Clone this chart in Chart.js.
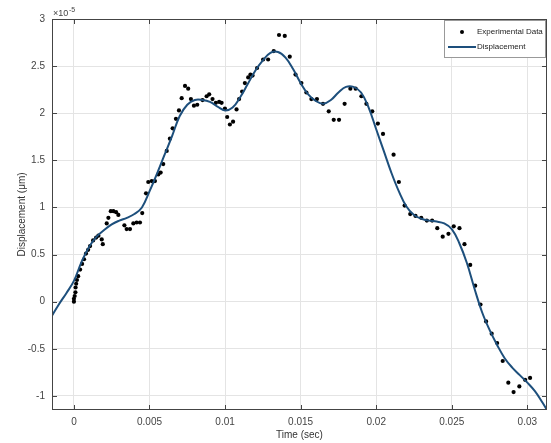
<!DOCTYPE html>
<html>
<head>
<meta charset="utf-8">
<script src="https://cdn.jsdelivr.net/npm/chart.js@4.4.1/dist/chart.umd.min.js"></script>
<style>
  html, body { margin: 0; padding: 0; background: #fff; }
  #wrap { width: 551px; height: 443px; }
</style>
</head>
<body>
<div id="wrap"><canvas id="dispChart"></canvas></div>
<script>
// experimental samples (time in s, displacement in units of 1e-5)
const expTime = [0, 0, 0.00005, 0.0001, 0.00011, 0.00015, 0.0002, 0.00028, 0.00041, 0.00054,
    0.00067, 0.0008, 0.00094, 0.00107, 0.00127, 0.00147, 0.00162, 0.00184, 0.00191, 0.00217,
    0.00228, 0.00244, 0.00261, 0.00279, 0.00294, 0.00334, 0.00349, 0.00371, 0.00393, 0.00415,
    0.00437, 0.00452, 0.00477, 0.00492, 0.00515, 0.00536, 0.00558, 0.00574, 0.00591, 0.00614,
    0.00635, 0.00653, 0.00675, 0.00695, 0.00713, 0.00735, 0.00756, 0.00774, 0.00794, 0.00816,
    0.00851, 0.00878, 0.00895, 0.00917, 0.00939, 0.00961, 0.00977, 0.00999, 0.01014, 0.01032,
    0.01053, 0.01076, 0.01093, 0.01113, 0.01131, 0.01153, 0.01168, 0.01182, 0.01212, 0.01252,
    0.01285, 0.01322, 0.01357, 0.01395, 0.01428, 0.01466, 0.01505, 0.01538, 0.01571, 0.01608,
    0.01648, 0.01686, 0.01719, 0.01754, 0.01791, 0.01829, 0.01864, 0.01902, 0.01935, 0.01974,
    0.02011, 0.02045, 0.02115, 0.0215, 0.02188, 0.02225, 0.0226, 0.02298, 0.02335, 0.0237,
    0.02404, 0.0244, 0.02478, 0.02513, 0.02551, 0.02584, 0.02622, 0.02655, 0.0269, 0.02727,
    0.02764, 0.028, 0.02837, 0.02874, 0.02909, 0.02947, 0.02985, 0.03018];
const expDisp = [0.00, 0.03, 0.06, 0.10, 0.15, 0.19, 0.23, 0.27, 0.34, 0.40,
    0.45, 0.51, 0.55, 0.59, 0.65, 0.68, 0.70, 0.66, 0.61, 0.83,
    0.89, 0.96, 0.96, 0.95, 0.92, 0.81, 0.77, 0.77, 0.83, 0.84,
    0.84, 0.94, 1.15, 1.27, 1.28, 1.28, 1.35, 1.37, 1.46, 1.60,
    1.73, 1.84, 1.94, 2.03, 2.16, 2.29, 2.26, 2.15, 2.08, 2.09,
    2.14, 2.18, 2.20, 2.15, 2.11, 2.12, 2.11, 2.05, 1.96, 1.88,
    1.91, 2.04, 2.15, 2.23, 2.32, 2.38, 2.41, 2.40, 2.48, 2.57,
    2.57, 2.66, 2.83, 2.82, 2.60, 2.41, 2.32, 2.22, 2.15, 2.15,
    2.10, 2.02, 1.93, 1.93, 2.10, 2.26, 2.26, 2.18, 2.10, 2.02,
    1.89, 1.78, 1.56, 1.27, 1.02, 0.93, 0.91, 0.89, 0.86, 0.86,
    0.78, 0.69, 0.72, 0.80, 0.78, 0.61, 0.39, 0.17, -0.03, -0.21,
    -0.34, -0.44, -0.63, -0.86, -0.96, -0.90, -0.83, -0.81];

// fitted displacement curve
const fitTime = [-0.00145, -0.001, -0.0005, 0, 0.0005, 0.001, 0.0015, 0.002, 0.0025, 0.003,
    0.0035, 0.004, 0.0045, 0.005, 0.0055, 0.006, 0.0065, 0.007, 0.0075, 0.008,
    0.0085, 0.009, 0.0095, 0.01, 0.0105, 0.011, 0.0115, 0.012, 0.0125, 0.013,
    0.0135, 0.014, 0.0145, 0.015, 0.0155, 0.016, 0.0165, 0.017, 0.0175, 0.018,
    0.0185, 0.019, 0.0195, 0.02, 0.0205, 0.021, 0.0215, 0.022, 0.0225, 0.023,
    0.0235, 0.024, 0.0245, 0.025, 0.0255, 0.026, 0.0265, 0.027, 0.0275, 0.028,
    0.0285, 0.029, 0.0295, 0.03, 0.0305, 0.031, 0.0313];
const fitDisp = [-0.15, -0.03, 0.09, 0.22, 0.42, 0.58, 0.69, 0.76, 0.82, 0.86,
    0.89, 0.93, 1.00, 1.17, 1.36, 1.56, 1.76, 1.97, 2.09, 2.14,
    2.14, 2.12, 2.07, 2.03, 2.06, 2.17, 2.31, 2.45, 2.56, 2.64,
    2.65, 2.59, 2.47, 2.32, 2.20, 2.13, 2.10, 2.14, 2.22, 2.28,
    2.28, 2.22, 2.06, 1.83, 1.60, 1.37, 1.17, 1.01, 0.92, 0.88,
    0.86, 0.85, 0.83, 0.77, 0.62, 0.41, 0.14, -0.11, -0.30, -0.46,
    -0.60, -0.70, -0.78, -0.86, -0.95, -1.07, -1.15];

const xTicks = [0, 0.005, 0.01, 0.015, 0.02, 0.025, 0.03];
const yTicks = [-1, -0.5, 0, 0.5, 1, 1.5, 2, 2.5, 3];

const lineColor = '#1d4f7c';
const font = 'Liberation Sans, Arial, sans-serif';

// text squeezed to fit a given width
function fitText(ctx, text, x, y, maxW) {
    const w = ctx.measureText(text).width;
    const k = Math.min(1, maxW / w);
    ctx.save();
    ctx.translate(x, y);
    ctx.scale(k, 1);
    ctx.fillText(text, 0, 0);
    ctx.restore();
}

// box, inward ticks, exponent and legend (MATLAB look)
const matlabDecor = {
    id: 'matlabDecor',
    afterDraw(chart) {
        const { ctx, chartArea: a, scales } = chart;
        ctx.save();
        ctx.strokeStyle = '#444';
        ctx.lineWidth = 1;
        ctx.strokeRect(a.left + 0.5, a.top + 0.5, a.right - a.left - 1, a.bottom - a.top - 1);
        ctx.beginPath();
        xTicks.forEach(v => {
            const px = Math.round(scales.x.getPixelForValue(v)) + 0.5;
            ctx.moveTo(px, a.bottom); ctx.lineTo(px, a.bottom - 5);
            ctx.moveTo(px, a.top); ctx.lineTo(px, a.top + 5);
        });
        yTicks.forEach(v => {
            const py = Math.round(scales.y.getPixelForValue(v)) + 0.5;
            ctx.moveTo(a.left, py); ctx.lineTo(a.left + 5, py);
            ctx.moveTo(a.right, py); ctx.lineTo(a.right - 5, py);
        });
        ctx.stroke();

        // exponent label
        ctx.fillStyle = '#444';
        ctx.textBaseline = 'alphabetic';
        ctx.font = '9px ' + font;
        ctx.fillText('\u00d710', a.left + 1, a.top - 3);
        ctx.font = '7px ' + font;
        ctx.fillText('-5', a.left + 17, a.top - 7);

        // legend
        const lx = 444, ly = a.top + 1, lw = a.right - 2 - lx, lh = 37;
        ctx.fillStyle = '#fff';
        ctx.fillRect(lx, ly, lw, lh);
        ctx.strokeStyle = '#999';
        ctx.strokeRect(lx + 0.5, ly + 0.5, lw, lh);
        ctx.fillStyle = '#000';
        ctx.beginPath();
        ctx.arc(462, ly + 12, 2, 0, Math.PI * 2);
        ctx.fill();
        ctx.strokeStyle = lineColor;
        ctx.lineWidth = 2;
        ctx.beginPath();
        ctx.moveTo(448, ly + 27); ctx.lineTo(476, ly + 27);
        ctx.stroke();
        ctx.fillStyle = '#222';
        ctx.font = '8px ' + font;
        ctx.textBaseline = 'middle';
        fitText(ctx, 'Experimental Data', 477, ly + 12, 67);
        fitText(ctx, 'Displacement', 477, ly + 27, 50);
        ctx.restore();
    }
};

const ctx = document.getElementById('dispChart').getContext('2d');

new Chart(ctx, {
    type: 'scatter',
    data: {
        datasets: [
            {
                label: 'Experimental Data',
                data: expTime.map((t, i) => ({ x: t, y: expDisp[i] })),
                backgroundColor: '#000',
                borderColor: '#000',
                pointRadius: 2.1,
                pointBorderWidth: 0,
                order: 2
            },
            {
                label: 'Displacement',
                data: fitTime.map((t, i) => ({ x: t, y: fitDisp[i] })),
                showLine: true,
                borderColor: lineColor,
                borderWidth: 2,
                pointRadius: 0,
                tension: 0.4,
                order: 1
            }
        ]
    },
    options: {
        responsive: true,
        maintainAspectRatio: false,
        animation: false,
        layout: { padding: { top: 19, right: 3, left: 0, bottom: 0 } },
        plugins: {
            legend: { display: false },
            tooltip: { enabled: false }
        },
        scales: {
            x: {
                type: 'linear',
                min: -0.00145,
                max: 0.0313,
                afterFit: s => { s.height = 33; },
                afterBuildTicks: s => { s.ticks = xTicks.map(v => ({ value: v })); },
                grid: { color: '#e4e4e4', drawTicks: false },
                border: { display: false },
                ticks: {
                    padding: 6,
                    color: '#444',
                    font: { family: font, size: 10 },
                    callback: v => String(v)
                },
                title: {
                    display: true,
                    text: 'Time (sec)',
                    color: '#333',
                    font: { family: font, size: 10 },
                    padding: { top: 0, bottom: 2 }
                }
            },
            y: {
                min: -1.15,
                max: 3,
                afterFit: s => { s.width = 52; },
                afterBuildTicks: s => { s.ticks = yTicks.map(v => ({ value: v })); },
                grid: { color: '#e4e4e4', drawTicks: false },
                border: { display: false },
                ticks: {
                    padding: 7,
                    color: '#444',
                    font: { family: font, size: 10 },
                    callback: v => String(v)
                },
                title: {
                    display: true,
                    text: 'Displacement (\u03bcm)',
                    color: '#333',
                    font: { family: font, size: 10 },
                    padding: { top: 16, bottom: 0 }
                }
            }
        }
    },
    plugins: [matlabDecor]
});
</script>
</body>
</html>
